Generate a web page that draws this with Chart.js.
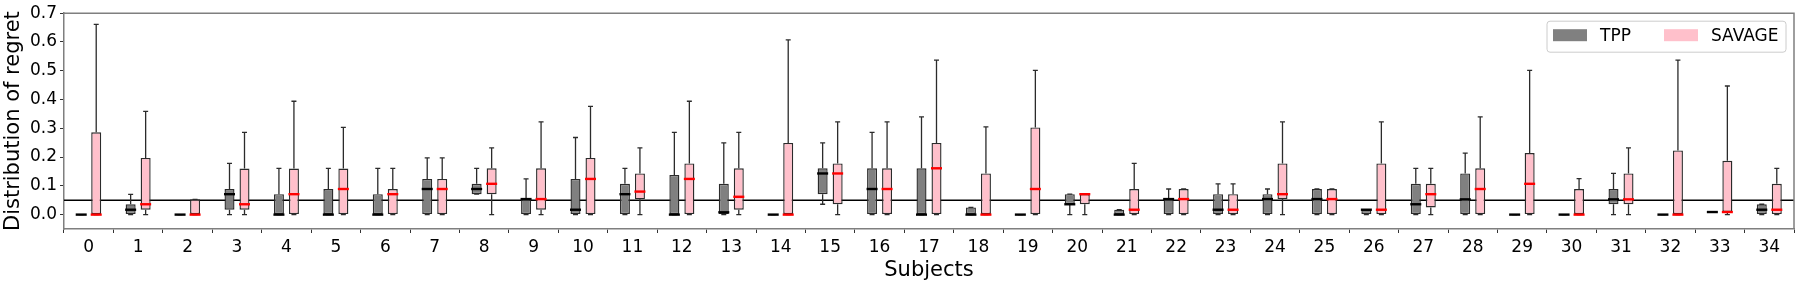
<!DOCTYPE html>
<html lang="en">
<head>
<meta charset="UTF-8">
<title>Distribution of regret</title>
<script src="https://cdn.jsdelivr.net/npm/chart.js@4.4.1/dist/chart.umd.min.js"></script>
<style>
    body, html { margin: 0; padding: 0; background: #fff; }
    canvas { display: block; }
</style>
</head>
<body>
<canvas id="regretChart" width="1800" height="282"></canvas>
<script>
// subjects on the x axis
const subjects = ['0','1','2','3','4','5','6','7','8','9','10','11','12','13','14','15','16','17',
    '18','19','20','21','22','23','24','25','26','27','28','29','30','31','32','33','34'];
const yTicks = [0, 0.1, 0.2, 0.3, 0.4, 0.5, 0.6, 0.7];
const refLine = 0.05;

// TPP box statistics (whisker low, Q1, median, Q3, whisker high)
const tppLow  = [0,0,0,0,0,0,0,0,0.071,0,0,0,0,0,0,0.036,0,0,0,0,0,0,0,0,0,0,0,0,0,0,0,0,0,0.009,0];
const tppQ1   = [0,0,0,0.017,0,0,0,0,0.071,0,0,0,0,0,0,0.071,0,0,0,0,0.036,0,0,0,0,0,0,0,0,0,0,0.036,0,0.009,0];
const tppMed  = [0,0.017,0,0.071,0,0,0,0.089,0.089,0.054,0.017,0.071,0,0.008,0,0.143,0.089,0,0,0,0.036,0,0.054,0.017,0.054,0.054,0.017,0.036,0.053,0,0,0.053,0,0.009,0.017];
const tppQ3   = [0,0.036,0,0.089,0.071,0.089,0.071,0.124,0.107,0.054,0.124,0.107,0.138,0.107,0,0.161,0.161,0.161,0.025,0,0.071,0.017,0.054,0.071,0.071,0.089,0.017,0.107,0.143,0,0,0.089,0,0.009,0.036];
const tppHigh = [0,0.070,0,0.178,0.161,0.161,0.161,0.197,0.161,0.124,0.268,0.161,0.286,0.249,0,0.249,0.286,0.340,0.025,0,0.071,0.017,0.089,0.107,0.089,0.089,0.017,0.161,0.214,0,0,0.143,0,0.009,0.036];

// SAVAGE box statistics
const savLow  = [0,0,0,0,0,0,0,0,0,0,0,0,0,0,0,0,0,0,0,0,0,0,0,0,0,0,0,0,0,0,0,0,0,0,0];
const savQ1   = [0,0.017,0,0.017,0,0,0,0,0.071,0.017,0,0.053,0,0.017,0,0.036,0,0,0,0,0.036,0,0,0,0.054,0,0,0.025,0,0,0,0.036,0,0.009,0];
const savMed  = [0,0.036,0,0.036,0.071,0.089,0.071,0.089,0.107,0.054,0.124,0.080,0.124,0.062,0,0.143,0.089,0.161,0,0.089,0.071,0.017,0.054,0.017,0.071,0.054,0.017,0.071,0.089,0.107,0,0.053,0,0.009,0.017];
const savQ3   = [0.286,0.197,0.053,0.160,0.160,0.160,0.089,0.124,0.161,0.161,0.197,0.143,0.178,0.161,0.249,0.178,0.161,0.249,0.143,0.303,0.071,0.089,0.089,0.071,0.178,0.089,0.178,0.107,0.161,0.214,0.089,0.143,0.223,0.187,0.107];
const savHigh = [0.661,0.359,0.053,0.286,0.394,0.303,0.161,0.197,0.232,0.322,0.376,0.232,0.394,0.286,0.607,0.322,0.322,0.537,0.305,0.501,0.071,0.178,0.089,0.107,0.322,0.089,0.322,0.161,0.340,0.501,0.125,0.232,0.537,0.447,0.161];

const FONT = 'DejaVu Sans';
const EDGE = '#2b2b2b';

const boxExtras = {
    id: 'boxExtras',
    beforeDatasetsDraw(chart) {
        const {ctx, chartArea, scales: {y}} = chart;
        const py = y.getPixelForValue(refLine);
        ctx.save();
        ctx.strokeStyle = '#000';
        ctx.lineWidth = 1.5;
        ctx.beginPath();
        ctx.moveTo(chartArea.left, py);
        ctx.lineTo(chartArea.right, py);
        ctx.stroke();
        ctx.restore();
    },
    afterDatasetsDraw(chart) {
        const {ctx, chartArea, scales: {y}} = chart;
        const stats = [
            {low: tppLow, q1: tppQ1, med: tppMed, q3: tppQ3, high: tppHigh, medColor: '#000000'},
            {low: savLow, q1: savQ1, med: savMed, q3: savQ3, high: savHigh, medColor: '#ff0000'}
        ];
        ctx.save();
        stats.forEach((s, di) => {
            const meta = chart.getDatasetMeta(di);
            meta.data.forEach((bar, i) => {
                const x = bar.x;
                const w = bar.width;
                ctx.strokeStyle = EDGE;
                ctx.lineWidth = 1.3;
                ctx.beginPath();
                // upper whisker
                ctx.moveTo(x, y.getPixelForValue(s.q3[i]));
                ctx.lineTo(x, y.getPixelForValue(s.high[i]));
                ctx.moveTo(x - 2.5, y.getPixelForValue(s.high[i]));
                ctx.lineTo(x + 2.5, y.getPixelForValue(s.high[i]));
                // lower whisker
                ctx.moveTo(x, y.getPixelForValue(s.q1[i]));
                ctx.lineTo(x, y.getPixelForValue(s.low[i]));
                ctx.moveTo(x - 2.5, y.getPixelForValue(s.low[i]));
                ctx.lineTo(x + 2.5, y.getPixelForValue(s.low[i]));
                ctx.stroke();
                // median
                ctx.strokeStyle = s.medColor;
                ctx.lineWidth = 2.4;
                ctx.beginPath();
                ctx.moveTo(x - w / 2 - 0.5, y.getPixelForValue(s.med[i]));
                ctx.lineTo(x + w / 2 + 0.5, y.getPixelForValue(s.med[i]));
                ctx.stroke();
            });
        });

        // top and right spines
        ctx.strokeStyle = '#7f7f7f';
        ctx.lineWidth = 1.5;
        ctx.beginPath();
        ctx.moveTo(chartArea.left, chartArea.top);
        ctx.lineTo(chartArea.right, chartArea.top);
        ctx.lineTo(chartArea.right, chartArea.bottom);
        ctx.stroke();

        // legend in the upper right corner
        const lw = 239, lh = 31;
        const lx = chartArea.right - 8 - lw;
        const ly = chartArea.top + 8;
        ctx.fillStyle = 'rgba(255,255,255,0.8)';
        ctx.strokeStyle = '#cccccc';
        ctx.lineWidth = 1;
        ctx.beginPath();
        ctx.roundRect(lx, ly, lw, lh, 3);
        ctx.fill();
        ctx.stroke();
        const items = [
            {label: 'TPP', color: '#808080', x: lx + 6},
            {label: 'SAVAGE', color: '#ffc0cb', x: lx + 117}
        ];
        ctx.font = '17px "' + FONT + '"';
        ctx.textBaseline = 'middle';
        items.forEach(it => {
            ctx.fillStyle = it.color;
            ctx.fillRect(it.x, ly + 8, 34, 12);
            ctx.fillStyle = '#000';
            ctx.fillText(it.label, it.x + 47, ly + 15);
        });
        ctx.restore();
    }
};

const ctx = document.getElementById('regretChart').getContext('2d');
new Chart(ctx, {
    type: 'bar',
    data: {
        labels: subjects,
        datasets: [{
            label: 'TPP',
            data: tppQ1.map((v, i) => [v, tppQ3[i]]),
            backgroundColor: '#808080',
            borderColor: EDGE,
            borderWidth: 1.4,
            borderSkipped: false
        }, {
            label: 'SAVAGE',
            data: savQ1.map((v, i) => [v, savQ3[i]]),
            backgroundColor: '#ffc0cb',
            borderColor: EDGE,
            borderWidth: 1.4,
            borderSkipped: false
        }]
    },
    options: {
        responsive: false,
        animation: false,
        categoryPercentage: 0.607,
        barPercentage: 0.667,
        layout: { padding: { top: 11, right: 6, left: 0, bottom: 0 } },
        plugins: {
            legend: { display: false },
            tooltip: { enabled: false }
        },
        scales: {
            x: {
                grid: { drawOnChartArea: false, drawTicks: true, tickLength: 4, tickColor: '#333' },
                border: { color: '#7f7f7f', width: 1.5 },
                ticks: { color: '#000', font: { family: FONT, size: 17 }, padding: 4, maxRotation: 0, autoSkip: false },
                title: { display: true, text: 'Subjects', color: '#000', font: { family: FONT, size: 21 }, padding: { top: 0, bottom: -1 } },
                afterFit(scale) { scale.height = 53; }
            },
            y: {
                min: -0.05,
                max: 0.7,
                grid: { drawOnChartArea: false, drawTicks: true, tickLength: 4, tickColor: '#333' },
                border: { color: '#7f7f7f', width: 1.5 },
                ticks: { color: '#000', font: { family: FONT, size: 17 }, padding: 3, callback: v => v.toFixed(1) },
                title: { display: true, text: 'Distribution of regret', color: '#000', font: { family: FONT, size: 21 }, padding: { top: 1, bottom: 0 } },
                afterBuildTicks(scale) { scale.ticks = yTicks.map(v => ({ value: v })); },
                afterFit(scale) { scale.width = 64; }
            }
        }
    },
    plugins: [boxExtras]
});
</script>
</body>
</html>
